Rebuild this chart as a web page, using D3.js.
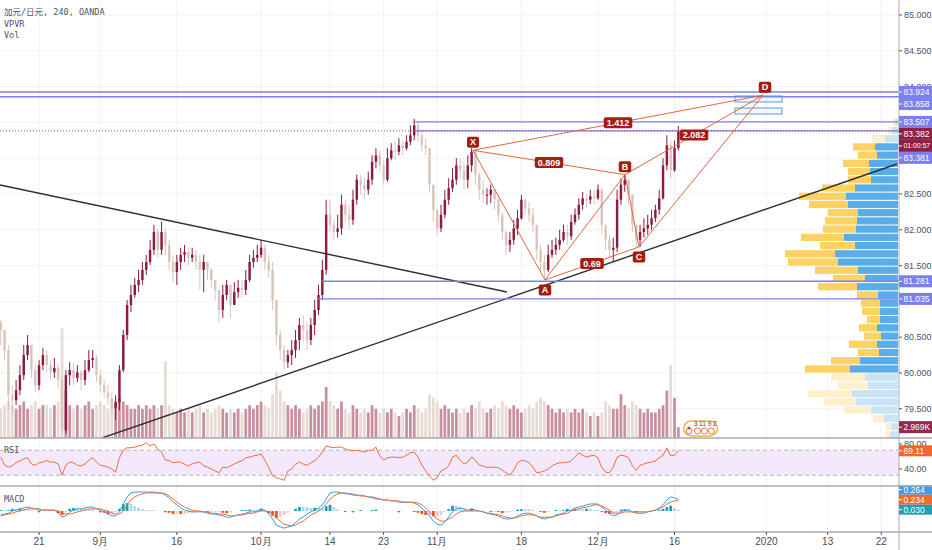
<!DOCTYPE html>
<html>
<head>
<meta charset="utf-8">
<script src="https://cdn.jsdelivr.net/npm/d3@7/dist/d3.min.js"></script>
<style>
  body { margin: 0; background: #fff; }
  svg { display: block; font-family: "Liberation Sans", Arial, sans-serif; }
</style>
</head>
<body>
<svg id="chart" width="932" height="550"></svg>
<script>
// CADJPY, two bars per trading day (bar i sits on trading day i/2)
const firstOpen = 80.70;
const closes = [
  80.60, 80.32, 79.69, 79.62, 79.76, 79.97, 80.25, 80.39, 80.04, 79.83,
  80.11, 80.25, 80.11, 80.01, 80.07, 79.90, 79.20, 79.97, 80.04, 79.93,
  80.01, 79.90, 80.04, 80.18, 80.21, 79.97, 79.83, 79.73, 79.65, 79.51,
  79.59, 80.04, 80.53, 80.95, 81.09, 81.23, 81.30, 81.44, 81.55, 81.72,
  81.97, 81.72, 81.97, 81.79, 81.55, 81.41, 81.55, 81.65, 81.69, 81.61,
  81.65, 81.55, 81.44, 81.55, 81.44, 81.30, 81.16, 80.88, 81.09, 81.23,
  80.95, 81.13, 81.19, 81.16, 81.30, 81.55, 81.61, 81.65, 81.75, 81.55,
  81.44, 81.02, 80.53, 80.32, 80.15, 80.25, 80.32, 80.46, 80.67, 80.60,
  80.46, 80.67, 80.88, 81.09, 81.44, 82.21, 82.07, 81.97, 82.02, 82.35,
  82.21, 82.14, 82.42, 82.70, 82.63, 82.56, 82.70, 82.95, 83.04, 82.90,
  82.70, 83.00, 83.11, 83.09, 83.18, 83.14, 83.23, 83.32, 83.46, 83.32,
  83.18, 83.14, 82.63, 82.28, 82.02, 82.21, 82.42, 82.58, 82.70, 82.90,
  82.83, 82.70, 82.90, 83.09, 82.77, 82.56, 82.49, 82.49, 82.56, 82.42,
  82.21, 81.97, 81.79, 81.86, 82.02, 82.16, 82.42, 82.30, 82.21, 82.07,
  81.72, 81.55, 81.44, 81.65, 81.72, 81.79, 81.86, 81.97, 81.91, 82.11,
  82.21, 82.35, 82.44, 82.42, 82.47, 82.44, 82.56, 82.07, 81.86, 81.72,
  81.75, 82.42, 82.63, 82.70, 82.49, 82.07, 81.86, 81.97, 82.02, 82.07,
  82.16, 82.28, 82.44, 82.90, 83.18, 82.83, 83.14, 83.382
];
const highs = [
  80.74, 80.60, 80.39, 79.83, 79.90, 80.11, 80.39, 80.53, 80.39, 80.11,
  80.18, 80.35, 80.32, 80.18, 80.21, 80.11, 79.97, 80.04, 80.15, 80.15,
  80.11, 80.04, 80.18, 80.32, 80.32, 80.25, 80.04, 79.90, 79.83, 79.73,
  79.69, 80.11, 80.60, 81.02, 81.23, 81.33, 81.44, 81.55, 81.65, 81.86,
  82.07, 82.02, 82.11, 82.02, 81.86, 81.65, 81.65, 81.75, 81.79, 81.75,
  81.75, 81.72, 81.65, 81.65, 81.55, 81.47, 81.30, 81.16, 81.23, 81.30,
  81.23, 81.27, 81.30, 81.30, 81.44, 81.65, 81.72, 81.79, 81.86, 81.79,
  81.65, 81.55, 81.02, 80.60, 80.39, 80.32, 80.46, 80.60, 80.77, 80.81,
  80.71, 80.77, 81.02, 81.23, 81.58, 82.42, 82.42, 82.14, 82.21, 82.49,
  82.42, 82.35, 82.56, 82.77, 82.77, 82.72, 82.81, 83.04, 83.14, 83.11,
  82.97, 83.14, 83.21, 83.23, 83.28, 83.25, 83.32, 83.46, 83.55, 83.51,
  83.39, 83.28, 83.14, 82.63, 82.28, 82.35, 82.56, 82.72, 82.86, 83.00,
  83.00, 82.95, 83.04, 83.14, 83.11, 82.81, 82.70, 82.58, 82.63, 82.58,
  82.49, 82.25, 82.00, 81.97, 82.14, 82.28, 82.49, 82.44, 82.39, 82.30,
  82.07, 81.79, 81.65, 81.79, 81.86, 81.89, 82.00, 82.07, 82.07, 82.21,
  82.30, 82.44, 82.53, 82.50, 82.56, 82.56, 82.63, 82.58, 82.07, 81.93,
  81.89, 82.56, 82.72, 82.77, 82.70, 82.49, 82.07, 82.07, 82.16, 82.21,
  82.28, 82.35, 82.56, 83.00, 83.32, 83.25, 83.25, 83.45
];
const lows = [
  80.39, 80.18, 79.48, 79.41, 79.55, 79.69, 79.90, 80.18, 79.93, 79.73,
  79.76, 80.04, 80.01, 79.90, 79.93, 79.79, 79.11, 79.15, 79.83, 79.83,
  79.87, 79.76, 79.83, 80.01, 80.07, 79.87, 79.73, 79.65, 79.55, 79.41,
  79.34, 79.48, 80.01, 80.46, 80.85, 81.05, 81.13, 81.23, 81.37, 81.51,
  81.65, 81.61, 81.65, 81.65, 81.44, 81.27, 81.23, 81.44, 81.55, 81.51,
  81.55, 81.44, 81.16, 81.13, 81.30, 81.19, 81.02, 80.71, 80.77, 81.02,
  80.77, 80.95, 81.05, 81.05, 81.09, 81.27, 81.47, 81.55, 81.61, 81.44,
  81.33, 80.88, 80.39, 80.18, 80.04, 80.07, 80.11, 80.21, 80.32, 80.43,
  80.32, 80.39, 80.53, 80.81, 81.02, 81.37, 81.97, 81.86, 81.89, 81.93,
  82.11, 82.00, 82.07, 82.35, 82.49, 82.44, 82.49, 82.63, 82.86, 82.81,
  82.63, 82.67, 82.97, 82.97, 83.04, 83.04, 83.11, 83.18, 83.25, 83.23,
  83.09, 83.04, 82.53, 82.11, 81.93, 81.97, 82.16, 82.35, 82.53, 82.63,
  82.72, 82.56, 82.58, 82.81, 82.63, 82.42, 82.37, 82.35, 82.37, 82.28,
  82.11, 81.86, 81.65, 81.69, 81.79, 81.93, 82.14, 82.21, 82.11, 81.97,
  81.58, 81.41, 81.30, 81.41, 81.61, 81.65, 81.72, 81.83, 81.79, 81.86,
  82.07, 82.14, 82.28, 82.30, 82.36, 82.35, 82.42, 81.93, 81.72, 81.61,
  81.55, 81.69, 82.35, 82.53, 82.35, 81.97, 81.75, 81.76, 81.89, 81.93,
  82.00, 82.11, 82.21, 82.42, 82.83, 82.72, 82.81, 83.11
];
// volume in thousands
const volumes = [
  8, 9, 10, 9, 8, 9, 10, 8, 9, 10,
  8, 9, 9, 8, 9, 10, 30, 13, 9, 8,
  9, 8, 9, 10, 8, 9, 10, 9, 8, 9,
  10, 11, 10, 9, 8, 8, 9, 8, 9, 8,
  9, 8, 9, 21, 9, 8, 7, 8, 7, 8,
  7, 8, 9, 7, 8, 7, 8, 9, 8, 7,
  8, 7, 8, 7, 8, 9, 8, 9, 10, 9,
  8, 12, 18, 13, 10, 9, 8, 9, 8, 7,
  8, 9, 8, 9, 10, 14, 10, 9, 8, 10,
  8, 7, 9, 8, 7, 8, 7, 9, 8, 7,
  8, 7, 8, 7, 6, 7, 8, 7, 9, 8,
  7, 8, 12, 11, 10, 8, 9, 8, 7, 8,
  7, 8, 7, 9, 8, 10, 8, 7, 8, 9,
  8, 10, 9, 8, 9, 8, 7, 8, 9, 8,
  10, 11, 10, 9, 8, 7, 8, 7, 8, 7,
  8, 7, 8, 7, 6, 7, 6, 7, 10, 9,
  8, 8, 12, 9, 8, 10, 9, 8, 7, 8,
  7, 7, 8, 9, 13, 20, 11, 2.969
];
const rsiValues = [
  59, 46, 43, 45, 50, 53, 56, 58, 48, 46,
  50, 51, 54, 51, 51, 48, 30, 46, 51, 50,
  46, 45, 48, 54, 58, 51, 46, 45, 43, 40,
  35, 58, 70, 74, 74, 75, 77, 78, 82, 77,
  80, 72, 67, 54, 54, 50, 51, 51, 48, 45,
  48, 50, 51, 45, 43, 40, 37, 34, 43, 42,
  45, 48, 51, 53, 58, 59, 61, 62, 64, 54,
  42, 29, 26, 24, 22, 37, 40, 48, 51, 48,
  46, 50, 53, 59, 67, 77, 75, 74, 75, 75,
  72, 70, 69, 70, 69, 67, 70, 70, 75, 61,
  54, 58, 59, 59, 58, 59, 62, 66, 67, 59,
  46, 37, 29, 22, 26, 37, 40, 45, 59, 62,
  54, 48, 51, 59, 54, 46, 45, 42, 43, 43,
  42, 38, 34, 30, 38, 50, 54, 53, 50, 43,
  34, 35, 37, 40, 45, 48, 50, 50, 51, 53,
  59, 66, 62, 59, 61, 62, 58, 42, 35, 34,
  43, 59, 62, 61, 58, 45, 38, 46, 48, 50,
  51, 53, 58, 62, 74, 61, 62, 69.11
];
const macdValues = [
  -0.09, -0.07, -0.05, 0, 0.02, 0.05, 0.07, 0.09, 0.07, 0.05,
  0.02, 0.02, 0.02, 0.02, 0.02, -0.05, -0.14, -0.11, -0.02, 0.02,
  0.05, 0.05, 0.07, 0.09, 0.09, 0.05, 0.02, -0.02, -0.07, -0.11,
  -0.11, -0.02, 0.16, 0.32, 0.41, 0.43, 0.43, 0.43, 0.43, 0.43,
  0.43, 0.41, 0.41, 0.36, 0.30, 0.20, 0.14, 0.07, 0.02, 0,
  -0.02, -0.02, -0.02, -0.02, -0.05, -0.07, -0.07, -0.09, -0.11, -0.14,
  -0.14, -0.11, -0.09, -0.07, -0.05, -0.02, -0.02, 0, 0.05, 0.02,
  -0.07, -0.18, -0.32, -0.36, -0.39, -0.36, -0.34, -0.27, -0.18, -0.14,
  -0.07, -0.02, 0.02, 0.07, 0.14, 0.27, 0.41, 0.43, 0.43, 0.41,
  0.39, 0.39, 0.36, 0.36, 0.36, 0.34, 0.32, 0.32, 0.30, 0.27,
  0.25, 0.25, 0.23, 0.23, 0.20, 0.20, 0.20, 0.20, 0.18, 0.14,
  0.07, -0.02, -0.11, -0.23, -0.30, -0.32, -0.25, -0.14, -0.02, 0.05,
  0.07, 0.05, 0.02, 0.05, 0.02, 0, -0.02, -0.05, -0.07, -0.09,
  -0.11, -0.16, -0.18, -0.18, -0.16, -0.11, -0.07, -0.05, -0.05, -0.07,
  -0.11, -0.16, -0.18, -0.16, -0.14, -0.09, -0.07, -0.05, 0, 0.02,
  0.07, 0.09, 0.11, 0.14, 0.16, 0.16, 0.16, 0.09, 0.02, -0.05,
  -0.11, -0.09, -0.02, 0.02, 0.02, -0.02, -0.05, -0.05, -0.05, -0.02,
  0, 0.02, 0.07, 0.14, 0.25, 0.32, 0.30, 0.264
];
const signalValues = [
  -0.11, -0.09, -0.07, -0.05, -0.02, 0, 0.02, 0.05, 0.05, 0.05,
  0.05, 0.02, 0.02, 0.02, 0.02, 0, -0.05, -0.07, -0.07, -0.05,
  -0.02, 0, 0.02, 0.05, 0.05, 0.05, 0.05, 0.02, 0, -0.05,
  -0.07, -0.07, 0, 0.14, 0.25, 0.32, 0.36, 0.39, 0.41, 0.41,
  0.41, 0.41, 0.41, 0.39, 0.34, 0.27, 0.20, 0.14, 0.09, 0.05,
  0.02, 0, 0, -0.02, -0.02, -0.05, -0.05, -0.07, -0.07, -0.09,
  -0.11, -0.11, -0.09, -0.09, -0.07, -0.05, -0.05, -0.02, 0, 0,
  -0.02, -0.07, -0.16, -0.23, -0.30, -0.32, -0.34, -0.32, -0.27, -0.23,
  -0.16, -0.09, -0.05, 0, 0.07, 0.16, 0.27, 0.34, 0.39, 0.41,
  0.41, 0.39, 0.39, 0.36, 0.34, 0.34, 0.32, 0.30, 0.27, 0.27,
  0.25, 0.25, 0.23, 0.23, 0.23, 0.20, 0.20, 0.20, 0.20, 0.18,
  0.14, 0.07, -0.02, -0.11, -0.18, -0.23, -0.23, -0.18, -0.14, -0.07,
  -0.02, 0, 0, 0, 0, 0, -0.02, -0.05, -0.05, -0.07,
  -0.09, -0.11, -0.14, -0.16, -0.16, -0.14, -0.11, -0.09, -0.09, -0.09,
  -0.11, -0.14, -0.14, -0.14, -0.14, -0.11, -0.09, -0.07, -0.05, 0,
  0.02, 0.05, 0.07, 0.09, 0.11, 0.14, 0.14, 0.11, 0.07, 0.02,
  -0.05, -0.05, -0.05, -0.02, -0.02, -0.02, -0.02, -0.02, -0.02, -0.02,
  0, 0.02, 0.05, 0.09, 0.16, 0.20, 0.23, 0.234
];

// visible range volume profile, rows listed from the top price down
const vpUp = [3, 6, 13, 23, 21, 29, 28, 27, 43, 52, 50, 40, 41, 42, 54, 43, 63, 60, 40, 33,
  41, 20, 18, 18, 18, 21, 17, 21, 19, 38, 48, 33, 30, 46, 42, 27, 14, 7, 8];
const vpDown = [2, 4, 13, 22, 19, 26, 22, 23, 33, 47, 39, 30, 32, 33, 43, 35, 50, 50, 43, 32,
  39, 21, 19, 18, 13, 18, 17, 28, 21, 29, 45, 34, 30, 44, 32, 27, 11, 5, 5];
const vpRange = [79.08, 83.56];
const vpValueArea = [3, 30];

const priceTicks = [79.5, 80, 80.5, 81, 81.5, 82, 82.5, 83, 83.5, 84, 84.5, 85];
const rsiTicks = [80, 40];
const tickDays = [5, 13, 23, 34, 43, 50, 57, 68, 78, 88, 100, 108, 115];
const tickLabels = ['21', '9月', '16', '10月', '14', '23', '11月', '18', '12月', '16', '2020', '13', '22'];

// drawings (trading-day, price)
const levelPrices = [83.924, 83.858, 83.507, 83.381, 81.281, 81.035];
const levelFrom = [null, null, 53.84, 54.1, 41.96, 41.3];
const trendDays = [[-0.1, 66.12], [13.22, 117.06]];
const trendPrices = [[82.626, 81.131], [79.092, 82.919]];
const patternNames = ['X', 'A', 'B', 'C', 'D'];
const patternDays = [61.68, 71.08, 81.53, 83.36, 99.56];
const patternPrices = [83.11, 81.30, 82.77, 81.76, 83.88];
const ratioLegs = [[0, 2], [1, 3], [0, 4], [2, 4]];
const ratioLabels = ['0.809', '0.69', '1.412', '2.082'];
const przDays = [95.9, 102.04];
const przBoxes = [[83.869, 83.785], [83.701, 83.617]];
const countdown = '01:00:57';

const width = 932, plotRight = 899;
const mainBottom = 438, rsiBottom = 486, macdBottom = 532;

const upColor = '#8b1c3f', downColor = '#d8c6bc';
const levelColor = '#7b7ff0';

const x = d3.scaleLinear().domain([-0.102, 117.32]).range([0, plotRight]);
const y = d3.scaleLinear().domain([79.092, 85.2095]).range([mainBottom, 0]);
const yVol = d3.scaleLinear().domain([0, 120]).range([mainBottom, 0]);
const yRsi = d3.scaleLinear().domain([12.8, 89.6]).range([rsiBottom, mainBottom]);
const yMacd = d3.scaleLinear().domain([-0.477, 0.568]).range([macdBottom, rsiBottom]);
const fmt3 = d3.format('.3f'), fmt2 = d3.format('.2f');

const bw = x(0.5) - x(0);
const bars = closes.map((c, i) => {
    const o = i ? closes[i - 1] : firstOpen;
    return {day: i / 2, o, c, h: Math.max(highs[i], o, c), l: Math.min(lows[i], o, c), v: volumes[i], up: c >= o};
});
const last = bars[bars.length - 1];
const n = macdValues.length - 1;
const hist = macdValues.map((m, i) => m - signalValues[i]);

const svg = d3.select('#chart');
const defs = svg.append('defs');
[['clipMain', 0, mainBottom], ['clipRsi', mainBottom, rsiBottom], ['clipMacd', rsiBottom, macdBottom]]
    .forEach(([id, y0, y1]) => defs.append('clipPath').attr('id', id)
        .append('rect').attr('x', 0).attr('y', y0).attr('width', plotRight).attr('height', y1 - y0));

// grid
const grid = svg.append('g').attr('stroke', '#f2f2f4');
grid.selectAll('.v').data(tickDays).join('line')
    .attr('x1', d => x(d)).attr('x2', d => x(d)).attr('y1', 0).attr('y2', macdBottom);
grid.selectAll('.h').data(priceTicks).join('line')
    .attr('x1', 0).attr('x2', plotRight).attr('y1', d => y(d)).attr('y2', d => y(d));

const main = svg.append('g').attr('clip-path', 'url(#clipMain)');

// volume
main.append('g').selectAll('rect').data(bars).join('rect')
    .attr('x', d => x(d.day) - bw * 0.36)
    .attr('width', bw * 0.72)
    .attr('y', d => yVol(d.v))
    .attr('height', d => yVol(0) - yVol(d.v))
    .attr('fill', d => d.up ? '#c8909f' : '#e7dbd4');

// volume profile
const vpStep = (vpRange[1] - vpRange[0]) / vpUp.length;
const vpW = d3.scaleLinear().domain([0, d3.max(vpUp, (u, i) => u + vpDown[i])]).range([0, 113]);
const vpRows = vpUp.map((u, i) => ({
    top: vpRange[1] - i * vpStep, up: u, down: vpDown[i],
    inVA: i >= vpValueArea[0] && i <= vpValueArea[1]
}));
const vp = main.append('g');
vp.selectAll('.up').data(vpRows).join('rect')
    .attr('x', d => plotRight - 1 - vpW(d.up))
    .attr('width', d => vpW(d.up))
    .attr('y', d => y(d.top) + 0.5)
    .attr('height', d => y(d.top - vpStep) - y(d.top) - 1)
    .attr('fill', d => d.inVA ? '#5aade9' : '#cae4f7');
vp.selectAll('.down').data(vpRows).join('rect')
    .attr('x', d => plotRight - 1 - vpW(d.up + d.down))
    .attr('width', d => vpW(d.down))
    .attr('y', d => y(d.top) + 0.5)
    .attr('height', d => y(d.top - vpStep) - y(d.top) - 1)
    .attr('fill', d => d.inVA ? '#fdd263' : '#fef0c8');

// candles
const candles = main.append('g');
candles.selectAll('line').data(bars).join('line')
    .attr('x1', d => x(d.day)).attr('x2', d => x(d.day))
    .attr('y1', d => y(d.h)).attr('y2', d => y(d.l))
    .attr('stroke', d => d.up ? upColor : downColor);
candles.selectAll('rect').data(bars).join('rect')
    .attr('x', d => x(d.day) - bw * 0.32)
    .attr('width', bw * 0.64)
    .attr('y', d => y(Math.max(d.o, d.c)))
    .attr('height', d => Math.max(1, Math.abs(y(d.o) - y(d.c))))
    .attr('fill', d => d.up ? upColor : downColor);

// trend lines
main.append('g').selectAll('line').data(trendDays).join('line')
    .attr('x1', d => x(d[0])).attr('x2', d => x(d[1]))
    .attr('y1', (d, i) => y(trendPrices[i][0])).attr('y2', (d, i) => y(trendPrices[i][1]))
    .attr('stroke', '#2e2e33').attr('stroke-width', 1.4);

// horizontal levels
main.append('g').selectAll('line').data(levelPrices).join('line')
    .attr('x1', (d, i) => levelFrom[i] === null ? 0 : x(levelFrom[i]))
    .attr('x2', plotRight)
    .attr('y1', d => y(d)).attr('y2', d => y(d))
    .attr('stroke', levelColor).attr('stroke-width', 1.4);

main.append('line')
    .attr('x1', 0).attr('x2', plotRight).attr('y1', y(last.c)).attr('y2', y(last.c))
    .attr('stroke', '#b24a66').attr('stroke-dasharray', '1,2');

// PRZ boxes
main.append('g').selectAll('rect').data(przBoxes).join('rect')
    .attr('x', x(przDays[0])).attr('width', x(przDays[1]) - x(przDays[0]))
    .attr('y', d => y(d[0])).attr('height', d => y(d[1]) - y(d[0]))
    .attr('fill', 'rgba(90,150,220,0.06)').attr('stroke', '#5a98e0');

// XABCD pattern
const pts = patternDays.map((d, i) => [x(d), y(patternPrices[i])]);
const legs = [[0, 1], [1, 2], [2, 3], [3, 4]].concat(ratioLegs);
main.append('g').selectAll('line').data(legs).join('line')
    .attr('x1', d => pts[d[0]][0]).attr('y1', d => pts[d[0]][1])
    .attr('x2', d => pts[d[1]][0]).attr('y2', d => pts[d[1]][1])
    .attr('stroke', '#e2673f').attr('stroke-width', 1);

const patternTags = main.append('g').attr('font-size', 9).attr('font-weight', 'bold');
function boxTag(cx, cy, text) {
    const g = patternTags.append('g');
    const t = g.append('text').attr('x', cx).attr('y', cy).attr('dy', '0.35em')
        .attr('text-anchor', 'middle').attr('fill', '#fff').text(text);
    const w = Math.max(10, t.node().getComputedTextLength() + 6);
    g.insert('rect', 'text').attr('x', cx - w / 2).attr('y', cy - 5.5)
        .attr('width', w).attr('height', 11).attr('rx', 2).attr('fill', '#a51c12');
}
ratioLegs.forEach(([a, b], i) => boxTag((pts[a][0] + pts[b][0]) / 2, (pts[a][1] + pts[b][1]) / 2, ratioLabels[i]));
patternNames.forEach((name, i) => boxTag(pts[i][0] + (i === 4 ? 2 : 0), pts[i][1] + (i % 2 === 0 ? -8 : 10), name));

// events marker under the last bars
const ev = main.append('g');
ev.append('rect').attr('x', x(89.2)).attr('y', 421).attr('width', x(93.6) - x(89.2)).attr('height', 15)
    .attr('rx', 7.5).attr('fill', 'none').attr('stroke', '#f6b73c').attr('stroke-width', 1.5);
ev.selectAll('circle').data([89.9, 91.0, 91.9, 92.8]).join('circle')
    .attr('cx', d => x(d)).attr('cy', 431).attr('r', 3)
    .attr('fill', 'none').attr('stroke', '#ea7a3a').attr('stroke-width', 1);
ev.append('circle').attr('cx', x(89.9)).attr('cy', 428).attr('r', 1.6).attr('fill', '#d9452b');
ev.append('text').attr('x', x(90.5)).attr('y', 426).attr('font-size', 6.5).attr('fill', '#444').text('3 11 9 2');

// RSI pane
const rsiG = svg.append('g').attr('clip-path', 'url(#clipRsi)');
rsiG.append('rect').attr('x', 0).attr('width', plotRight)
    .attr('y', yRsi(70)).attr('height', yRsi(30) - yRsi(70)).attr('fill', '#f4e8fd');
rsiG.selectAll('.band').data([70, 30]).join('line')
    .attr('x1', 0).attr('x2', plotRight).attr('y1', d => yRsi(d)).attr('y2', d => yRsi(d))
    .attr('stroke', '#b6b1bd').attr('stroke-dasharray', '4,3');
rsiG.append('path').datum(rsiValues)
    .attr('d', d3.line().x((d, i) => x(i / 2)).y(d => yRsi(d)))
    .attr('fill', 'none').attr('stroke', '#ee6d3c').attr('stroke-width', 1);

// MACD pane
const macdG = svg.append('g').attr('clip-path', 'url(#clipMacd)');
const histColor = (h, i) => {
    const prev = i ? hist[i - 1] : 0;
    if (h >= 0) return h > prev ? '#1f9fb1' : '#a8d8f0';
    return h < prev ? '#e9541f' : '#f5c5c9';
};
macdG.selectAll('rect').data(hist).join('rect')
    .attr('x', (d, i) => x(i / 2) - bw * 0.36)
    .attr('width', bw * 0.72)
    .attr('y', d => yMacd(Math.max(d, 0)))
    .attr('height', d => Math.abs(yMacd(d) - yMacd(0)))
    .attr('fill', histColor);
[[macdValues, '#3a9ce8'], [signalValues, '#f06d33']].forEach(([vals, col]) => {
    macdG.append('path').datum(vals)
        .attr('d', d3.line().x((d, i) => x(i / 2)).y(d => yMacd(d)))
        .attr('fill', 'none').attr('stroke', col).attr('stroke-width', 1);
});

// value tags for the price axis, pushed apart where they collide
function stack(items, h, down) {
    items.sort((a, b) => down ? a.y - b.y : b.y - a.y);
    for (let k = 1; k < items.length; k++) {
        items[k].y = down ? Math.max(items[k].y, items[k - 1].y + h) : Math.min(items[k].y, items[k - 1].y - h);
    }
    return items;
}
const mainTags = stack(levelPrices.map(p => ({y: y(p), text: fmt3(p), fill: levelColor}))
    .concat([
        {y: y(last.c), text: fmt3(last.c), fill: '#8e2143'},
        {y: y(last.c) + 0.01, text: countdown, fill: '#8e2143'},
        {y: yVol(last.v), text: fmt3(last.v) + 'K', fill: '#8e2d4c'}
    ]), 12, true).map(t => Object.assign(t, {h: 12}));
const rsiTags = [{y: yRsi(rsiValues[n]), text: fmt2(rsiValues[n]), fill: '#f0662c', h: 11}];
const macdTags = stack([
    {y: yMacd(macdValues[n]), text: fmt3(macdValues[n]), fill: '#3a9ce8'},
    {y: yMacd(signalValues[n]), text: fmt3(signalValues[n]), fill: '#f06a2e'},
    {y: yMacd(hist[n]), text: fmt3(hist[n]), fill: '#1f9fb1'}
], 10, false).map(t => Object.assign(t, {h: 10})).reverse();
const allTags = mainTags.concat(rsiTags, macdTags);

// frame
const frame = svg.append('g').attr('stroke', '#a9abb2');
frame.selectAll('.sep').data([mainBottom, rsiBottom, macdBottom]).join('line')
    .attr('x1', 0).attr('x2', width).attr('y1', d => d).attr('y2', d => d).attr('stroke-width', 1.5);
frame.append('line').attr('x1', plotRight).attr('x2', plotRight).attr('y1', 0).attr('y2', 550);

// price axis: grey ticks, skipping those a tag fully covers
const axis = svg.append('g').attr('font-size', 9).attr('fill', '#50535e');
function axisTick(yy, text) {
    if (allTags.some(t => Math.abs(t.y - yy) < t.h / 2 - 1)) return;
    axis.append('line').attr('x1', plotRight).attr('x2', plotRight + 3).attr('y1', yy).attr('y2', yy).attr('stroke', '#50535e');
    axis.append('text').attr('x', plotRight + 5).attr('y', yy).attr('dy', '0.35em').text(text);
}
priceTicks.forEach(p => axisTick(y(p), fmt3(p)));
rsiTicks.forEach(v => axisTick(yRsi(v), fmt2(v)));

// time axis
const tAxis = svg.append('g').attr('font-size', 10).attr('fill', '#4a4d57').attr('text-anchor', 'middle');
tickDays.forEach((d, i) => {
    tAxis.append('line').attr('x1', x(d)).attr('x2', x(d)).attr('y1', macdBottom).attr('y2', macdBottom + 3).attr('stroke', '#50535e');
    tAxis.append('text').attr('x', x(d)).attr('y', 545).text(tickLabels[i]);
});

const tags = svg.append('g').attr('font-size', 8.5);
allTags.forEach(t => {
    tags.append('rect').attr('x', plotRight).attr('y', t.y - t.h / 2).attr('width', width - plotRight).attr('height', t.h).attr('fill', t.fill);
    tags.append('line').attr('x1', plotRight).attr('x2', plotRight + 3).attr('y1', t.y).attr('y2', t.y).attr('stroke', '#fff');
    const txt = tags.append('text').attr('x', plotRight + 4.5).attr('y', t.y).attr('dy', '0.35em').attr('fill', '#fff').text(t.text);
    const len = txt.node().getComputedTextLength();
    if (len > 26.5) txt.attr('font-size', 8.5 * 26.5 / len);
});
// the top MACD tag runs under the pane separator
svg.append('rect').attr('x', plotRight + 1).attr('y', rsiBottom - 5).attr('width', width - plotRight).attr('height', 4.2).attr('fill', '#fff');
svg.append('line').attr('x1', plotRight).attr('x2', width).attr('y1', rsiBottom).attr('y2', rsiBottom)
    .attr('stroke', '#a9abb2').attr('stroke-width', 1.5);

// legends
const legend = svg.append('g').attr('font-family', '"DejaVu Sans Mono", "Noto Sans CJK SC", monospace')
    .attr('font-size', 8.5).attr('fill', '#50535e');
legend.append('text').attr('x', 4).attr('y', 15).text('加元/日元, 240, OANDA');
legend.append('text').attr('x', 4).attr('y', 27).text('VPVR');
legend.append('text').attr('x', 4).attr('y', 38).text('Vol');
legend.append('text').attr('x', 4).attr('y', 453).text('RSI');
legend.append('text').attr('x', 4).attr('y', 502).text('MACD');
</script>
</body>
</html>
